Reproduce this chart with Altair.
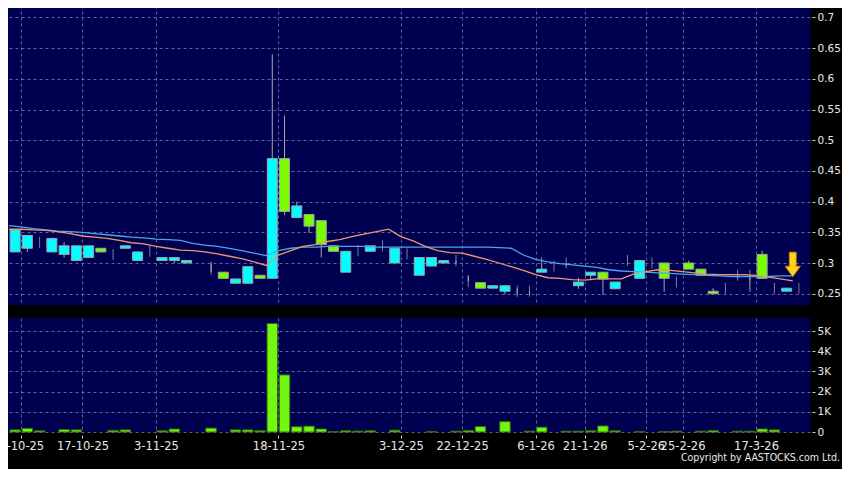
import altair as alt
import numpy as np
import pandas as pd

# ---------------- data ----------------
opens = [0.318, 0.324, 0.334, 0.318, 0.314, 0.304, 0.309, 0.324, 0.314, 0.324,
         0.304, 0.319, 0.304, 0.304, 0.300, None, 0.290, 0.285, 0.267, 0.267,
         0.280, 0.275, 0.470, 0.374, 0.379, 0.369, 0.328, 0.285, 0.320, 0.319,
         0.328, 0.300, 0.315, 0.280, 0.295, 0.300, 0.304, 0.270, 0.268, 0.259,
         0.254, 0.254, 0.254, 0.285, 0.295, 0.300, 0.263, 0.280, 0.285, 0.258,
         0.304, 0.275, 0.300, 0.300, 0.269, 0.300, 0.290, 0.254, 0.259, 0.280,
         0.280, 0.314, 0.259, 0.254, 0.259]
closes = [0.354, 0.345, 0.334, 0.340, 0.328, 0.328, 0.328, 0.318, 0.314, 0.328,
          0.318, 0.319, 0.309, 0.309, 0.304, None, 0.290, 0.275, 0.274, 0.294,
          0.275, 0.470, 0.384, 0.393, 0.360, 0.330, 0.319, 0.319, 0.320, 0.328,
          0.328, 0.324, 0.315, 0.309, 0.309, 0.304, 0.304, 0.270, 0.259, 0.263,
          0.263, 0.254, 0.254, 0.290, 0.295, 0.300, 0.269, 0.285, 0.274, 0.269,
          0.304, 0.304, 0.300, 0.275, 0.269, 0.290, 0.280, 0.250, 0.259, 0.280,
          0.280, 0.275, 0.259, 0.259, 0.259]
highs = [0.354, 0.345, 0.334, 0.340, 0.334, 0.328, 0.328, 0.324, 0.314, 0.328,
         0.318, 0.319, 0.309, 0.309, 0.304, None, 0.302, 0.285, 0.274, 0.294,
         0.280, 0.640, 0.540, 0.400, 0.379, 0.369, 0.328, 0.319, 0.320, 0.328,
         0.328, 0.324, 0.315, 0.309, 0.309, 0.304, 0.304, 0.280, 0.268, 0.263,
         0.263, 0.259, 0.254, 0.309, 0.295, 0.300, 0.276, 0.285, 0.285, 0.269,
         0.304, 0.304, 0.300, 0.300, 0.269, 0.304, 0.290, 0.259, 0.259, 0.280,
         0.280, 0.320, 0.259, 0.259, 0.259]
lows = [0.318, 0.318, 0.334, 0.318, 0.309, 0.304, 0.309, 0.318, 0.314, 0.324,
        0.304, 0.319, 0.304, 0.300, 0.300, None, 0.285, 0.275, 0.267, 0.267,
        0.275, 0.275, 0.378, 0.374, 0.349, 0.309, 0.319, 0.285, 0.320, 0.319,
        0.328, 0.300, 0.315, 0.280, 0.295, 0.300, 0.300, 0.270, 0.259, 0.259,
        0.249, 0.249, 0.249, 0.285, 0.295, 0.295, 0.258, 0.272, 0.248, 0.258,
        0.304, 0.275, 0.300, 0.253, 0.269, 0.290, 0.280, 0.250, 0.259, 0.275,
        0.253, 0.275, 0.259, 0.254, 0.259]
volumes = [105, 180, 60, 0, 120, 105, 0, 0, 80, 105,
           0, 0, 60, 150, 0, 0, 195, 0, 105, 105,
           60, 5380, 2830, 260, 290, 150, 20, 60, 45, 60,
           0, 90, 0, 0, 15, 0, 40, 75, 270, 0,
           515, 0, 40, 240, 0, 40, 40, 60, 300, 60,
           0, 15, 0, 15, 40, 0, 40, 75, 0, 40,
           40, 150, 105, 0, 0]

# moving averages (points sit on the slot boundaries)
ma_short = [0.355, 0.355, 0.354, 0.353, 0.351, 0.348, 0.344, 0.342, 0.340, 0.337,
            0.333, 0.331, 0.327, 0.324, 0.321, 0.320, 0.318, 0.315, 0.311, 0.307,
            0.302, 0.296, 0.313, 0.320, 0.327, 0.330, 0.335, 0.338, 0.343, 0.347,
            0.351, 0.355, 0.343, 0.336, 0.327, 0.320, 0.317, 0.316, 0.311, 0.306,
            0.300, 0.294, 0.288, 0.281, 0.276, 0.275, 0.273, 0.272, 0.274, 0.274,
            0.274, 0.282, 0.286, 0.289, 0.288, 0.286, 0.284, 0.282, 0.281, 0.281,
            0.281, 0.280, 0.277, 0.274, 0.271]
ma_long = [0.361, 0.359, 0.356, 0.354, 0.352, 0.351, 0.350, 0.348, 0.346, 0.344,
           0.342, 0.341, 0.339, 0.338, 0.337, 0.332, 0.329, 0.327, 0.324, 0.320,
           0.316, 0.312, 0.320, 0.324, 0.326, 0.326, 0.327, 0.327, 0.327, 0.327,
           0.326, 0.326, 0.326, 0.326, 0.326, 0.326, 0.326, 0.326, 0.326, 0.326,
           0.325, 0.324, 0.313, 0.306, 0.302, 0.299, 0.297, 0.295, 0.293, 0.289,
           0.287, 0.286, 0.285, 0.284, 0.283, 0.282, 0.281, 0.280, 0.279, 0.278,
           0.278, 0.278, 0.278, 0.279, 0.279]

date_ticks = [0.5, 5.5, 11.5, 21.5, 31.5, 36.5, 42.5, 46.5, 51.5, 54.5, 60.5]
date_labels = ["2-10-25", "17-10-25", "3-11-25", "18-11-25", "3-12-25", "22-12-25",
               "6-1-26", "21-1-26", "5-2-26", "25-2-26", "17-3-26"]
price_ticks = [0.25, 0.3, 0.35, 0.4, 0.45, 0.5, 0.55, 0.6, 0.65, 0.7]
vol_ticks = [0, 1000, 2000, 3000, 4000, 5000]
arrow_at = [63.5]
arrow_price = [0.2976]
copyright_text = ["Copyright by AASTOCKS.com Ltd."]

# ---------------- tables ----------------
n = len(opens)
df = pd.DataFrame({"i": np.arange(n), "o": opens, "h": highs, "l": lows,
                   "c": closes, "v": volumes})
candles = df.dropna(subset=["o"]).copy()
candles["dir"] = np.where(candles["c"] > candles["o"], "up",
                          np.where(candles["c"] < candles["o"], "down", "flat"))
bodies = candles[candles["dir"] != "flat"]
dojis = candles[candles["dir"] == "flat"]
vols = df[df["v"] > 0]

ma_df = pd.DataFrame({"p": np.arange(-1, n - 1) + 0.5,
                      "short": ma_short, "long": ma_long})
arrow_df = pd.DataFrame({"p": arrow_at, "y": arrow_price})
copy_df = pd.DataFrame({"t": copyright_text})
frame_df = pd.DataFrame({"k": [0]})

# ---------------- styling ----------------
NAVY = "#000050"
GRID = "#8a8ab8"
LABEL = "#e8e8e8"
TICK = "#c8c8c8"
FONT = "DejaVu Sans"
W, H_P, H_V, GAP = 806, 300, 114, 13

x_dom = [-0.5, 64.5]
p_dom = [0.2316, 0.7202]
v_dom = [0, 5650]

label_expr = " : ".join(
    f"datum.value == {t} ? '{lab}'" for t, lab in zip(date_ticks, date_labels)
) + " : ''"

grid_kw = dict(grid=True, gridColor=GRID, gridDash=[3, 3], gridOpacity=0.7)

x_scale = alt.Scale(domain=x_dom, nice=False, zero=False)
x_top_axis = alt.Axis(values=date_ticks, labels=False, ticks=False,
                      domain=False, title=None, **grid_kw)
y_price_axis = alt.Axis(orient="right", values=price_ticks, format=".2~f",
                        offset=2, tickSize=3, labelPadding=2, domain=False,
                        title=None, labelColor=LABEL, tickColor=TICK,
                        labelFont=FONT, labelFontSize=10.5, labelOverlap=False,
                        **grid_kw)
y_price = alt.Scale(domain=p_dom, nice=False, zero=False)


def px(field):
    return alt.X(field, type="quantitative", scale=x_scale, axis=x_top_axis)


def py(field):
    return alt.Y(field, type="quantitative", scale=y_price, axis=y_price_axis)


wick = alt.Chart(candles).mark_rule(color="#a8a8a8", strokeWidth=1).encode(
    x=px("i"), y=py("l"), y2="h:Q")
body = alt.Chart(bodies).mark_bar(width=10, stroke="#9aa4a8", strokeWidth=1).encode(
    x=px("i"), y=py("o"), y2="c:Q",
    fill=alt.Fill("dir:N", scale=alt.Scale(domain=["up", "down"],
                                           range=["#00ffff", "#7cfc00"]),
                  legend=None),
)
doji = alt.Chart(dojis).mark_tick(color="#b4b4b4", thickness=1, size=11).encode(
    x=px("i"), y=py("o"))
line_long = alt.Chart(ma_df).mark_line(color="#4aa6f0", strokeWidth=1.3,
                                       clip=True).encode(
    x=px("p"), y=py("long"))
line_short = alt.Chart(ma_df).mark_line(color="#ec9670", strokeWidth=1.3,
                                        clip=True).encode(
    x=px("p"), y=py("short"))
arrow_path = ("M-0.28,-1 L0.28,-1 L0.28,0.15 L0.62,0.15 L0,1 "
              "L-0.62,0.15 L-0.28,0.15 Z")
arrow = alt.Chart(arrow_df).mark_point(shape=arrow_path, size=600, filled=True,
                                       fill="#ffd21a", stroke="#d08000",
                                       strokeWidth=1, opacity=1).encode(
    x=px("p"), y=py("y"))

price = alt.layer(wick, body, doji, line_long, line_short, arrow).properties(
    width=W, height=H_P)

# first label is flush-aligned and pushed left so that it starts 15px
# left of the plot (it is cut off by the page edge as in the original)
x_bot = alt.X("i:Q", scale=x_scale,
              axis=alt.Axis(values=date_ticks, labelExpr=label_expr,
                            labelFlush=15, labelFlushOffset=27.4,
                            labelOverlap=False,
                            offset=3, tickSize=3, labelPadding=2,
                            domain=False, title=None,
                            labelColor=LABEL, tickColor=TICK,
                            labelFont=FONT, labelFontSize=11.5, **grid_kw))
vol_bars = alt.Chart(vols).mark_bar(width=10.5, fill="#72f810",
                                    stroke="#2f6a12", strokeWidth=1).encode(
    x=x_bot,
    y=alt.Y("v:Q", scale=alt.Scale(domain=v_dom, nice=False),
            axis=alt.Axis(orient="right", values=vol_ticks,
                          labelExpr="datum.value == 0 ? '0' : format(datum.value / 1000, 'd') + 'K'",
                          offset=2, tickSize=3, labelPadding=2, domain=False,
                          title=None, labelColor=LABEL, tickColor=TICK,
                          labelFont=FONT, labelFontSize=10.5,
                          labelOverlap=False, **grid_kw)),
)
copyright_mark = alt.Chart(copy_df).mark_text(
    align="right", baseline="middle", color=LABEL,
    font="DejaVu Sans Condensed, Liberation Sans Narrow, DejaVu Sans",
    fontSize=10.5).encode(
    x=alt.value(836), y=alt.value(140), text="t:N")

# invisible frame that fixes the overall extent of the drawing
frame = alt.Chart(frame_df).mark_rect(opacity=0).encode(
    x=alt.value(-20), x2=alt.value(850),
    y=alt.value(-(H_P + GAP + 10)), y2=alt.value(160))

volume = alt.layer(frame, vol_bars, copyright_mark).properties(
    width=W, height=H_V)

chart = alt.vconcat(price, volume, spacing=GAP, bounds="flush").properties(
    padding={"left": -24, "top": -13, "right": -12, "bottom": -9},
    background="#000000",
).configure_view(fill=NAVY, stroke=None).configure_axisY(
    labelOverlap=False).configure_axisX(labelOverlap=False)

chart.save("out.html", embed_options={"renderer": "svg", "actions": False})
